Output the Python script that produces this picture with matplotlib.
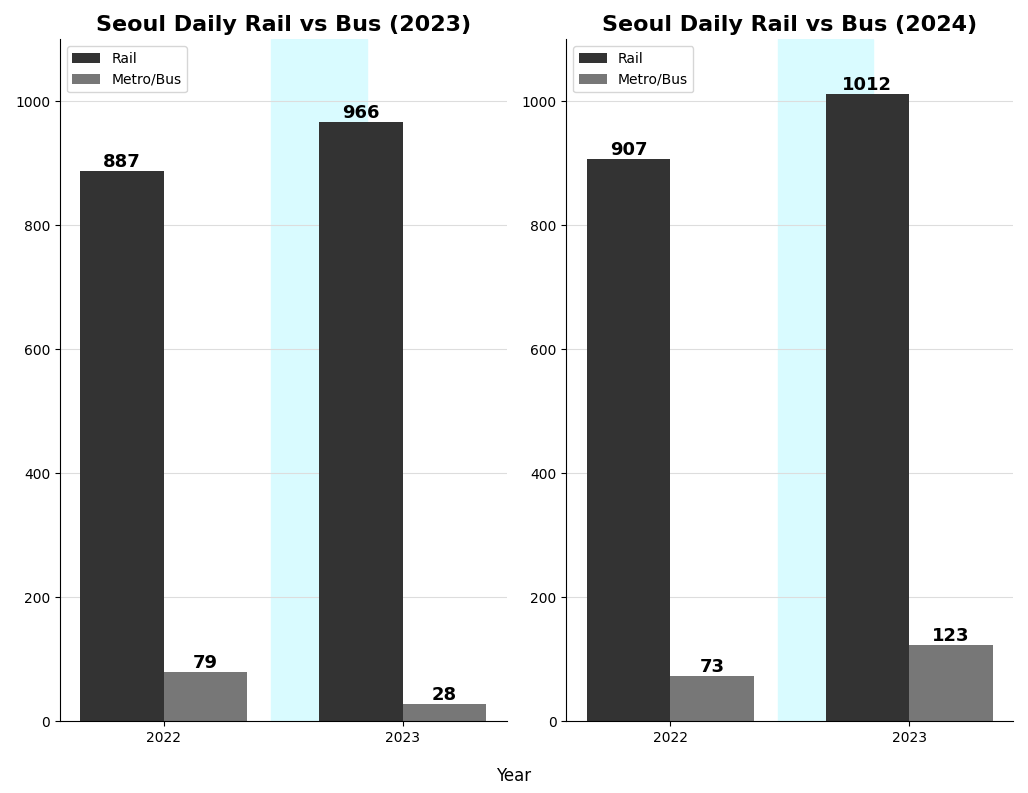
import matplotlib.pyplot as plt
import numpy as np

groups = ['2022', '2023']
left_rail = [887, 966]
left_bus = [79, 28]
right_rail = [907, 1012]
right_bus = [73, 123]
titles = ['Seoul Daily Rail vs Bus (2023)', 'Seoul Daily Rail vs Bus (2024)']

fig, axes = plt.subplots(1, 2, figsize=(10.28, 7.93), dpi=100)
x = np.arange(len(groups))
w = 0.35
for ax, rail, bus, title in zip(axes, [left_rail, right_rail], [left_bus, right_bus], titles):
    ax.axvspan(0.45, 0.85, color='#d9fbff', zorder=0)
    b1 = ax.bar(x - w / 2, rail, w, color='#333333', label='Rail', zorder=2)
    b2 = ax.bar(x + w / 2, bus, w, color='#777777', label='Metro/Bus', zorder=2)
    ax.bar_label(b1, fontsize=13, fontweight='bold')
    ax.bar_label(b2, fontsize=13, fontweight='bold')
    ax.set_title(title, fontsize=16, fontweight='bold')
    ax.set_xticks(x, groups)
    ax.set_ylim(0, 1100)
    ax.grid(axis='y', color='#dddddd', zorder=1)
    ax.legend(loc='upper left')
    for s in ['top', 'right']:
        ax.spines[s].set_visible(False)
fig.supxlabel('Year')
fig.tight_layout()
fig.savefig('out.png')
